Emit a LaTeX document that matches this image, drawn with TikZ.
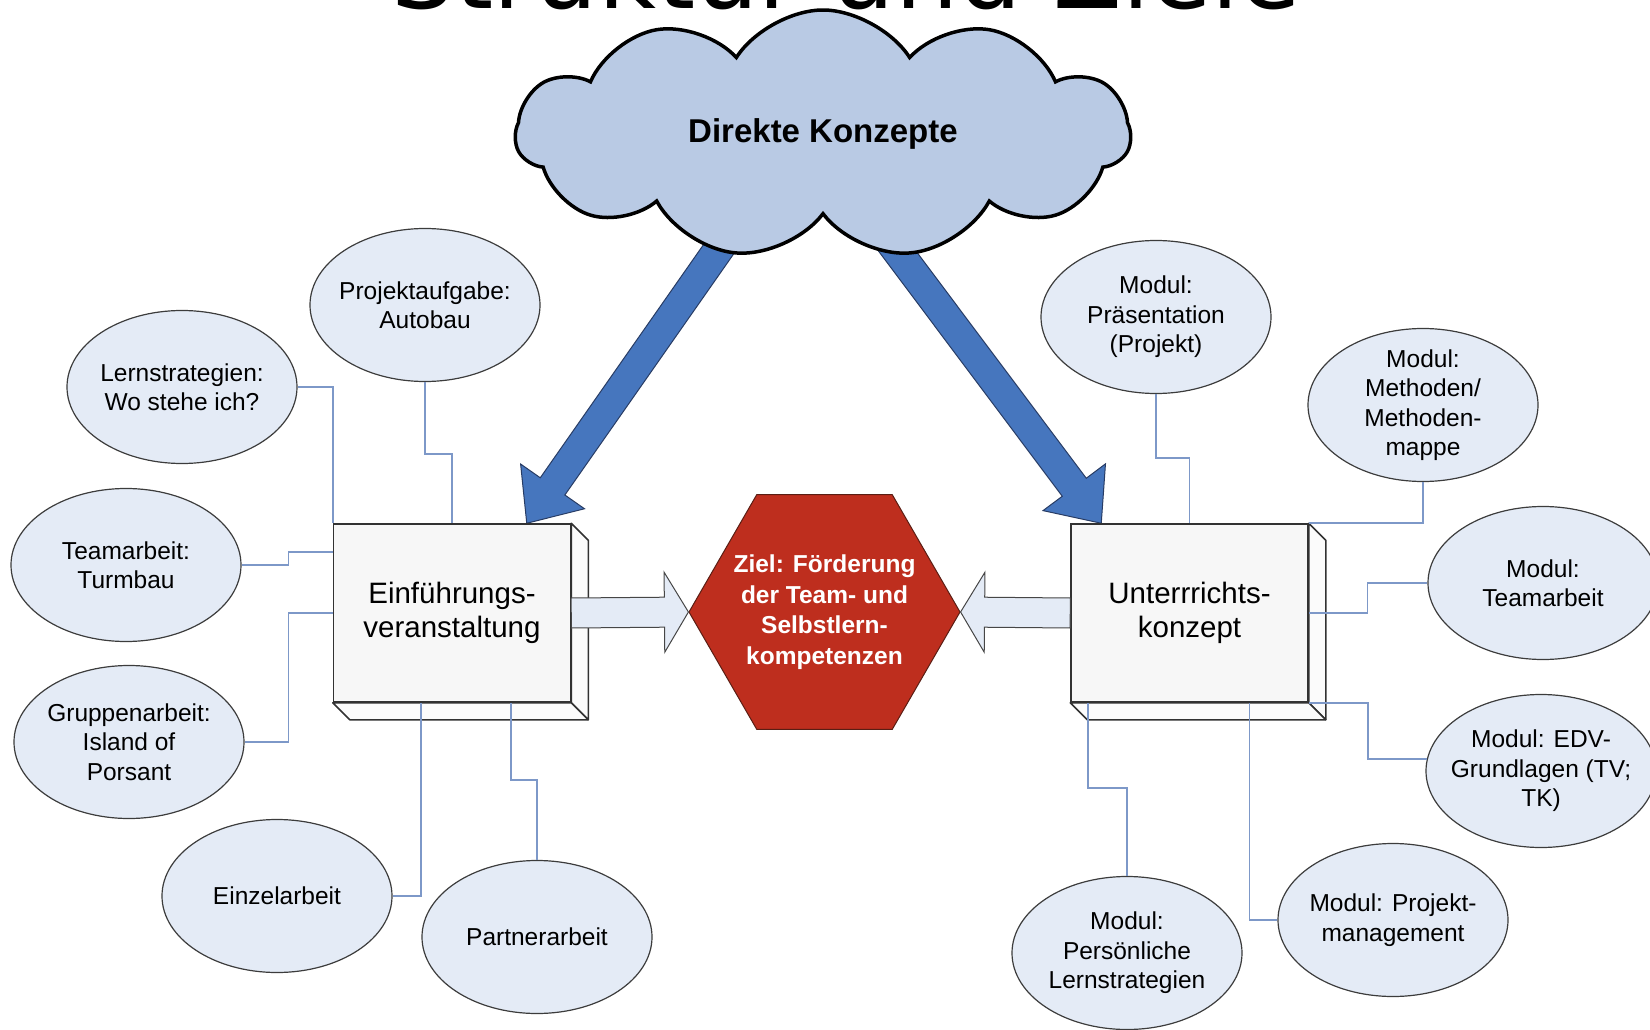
\documentclass[tikz,border=0pt]{standalone}
\usepackage{fontspec}
\setmainfont{Liberation Sans}
\newfontfamily\titlefont{DejaVu Sans}
\usetikzlibrary{shapes.geometric,shapes.symbols,calc,backgrounds}

\definecolor{ellfill}{RGB}{228,235,246}
\definecolor{ellline}{RGB}{60,60,60}
\definecolor{linkcol}{RGB}{125,152,200}
\definecolor{boxfront}{RGB}{247,247,247}
\definecolor{boxside}{RGB}{251,251,251}
\definecolor{boxline}{RGB}{50,50,50}
\definecolor{goalfill}{RGB}{190,46,30}
\definecolor{goalline}{RGB}{90,30,20}
\definecolor{cloudfill}{RGB}{185,202,228}
\definecolor{flatline}{RGB}{70,70,70}
\definecolor{bluefill}{RGB}{70,118,190}
\definecolor{blueline}{RGB}{40,60,100}

% style, from, to, shaft half width, head half width, head length
\newcommand{\blockarrow}[6]{%
  \coordinate (ba-base) at ($(#3)!#6!(#2)$);
  \draw[#1] ($(#2)!#4!90:(#3)$) -- ($(ba-base)!#4!90:(#3)$) -- ($(ba-base)!#5!90:(#3)$)
    -- (#3) -- ($(ba-base)!#5!-90:(#3)$) -- ($(ba-base)!#4!-90:(#3)$) -- ($(#2)!#4!-90:(#3)$) -- cycle;}

\begin{document}
\begin{tikzpicture}[x=1pt,y=-1pt]
        \tikzstyle{topic}=[ellipse,draw=ellline,fill=ellfill,line width=1.2pt,minimum width=230pt,minimum height=153pt,inner xsep=-60pt,inner ysep=-30pt,align=center,font=\fontsize{24.5}{29.5}\selectfont]
        \tikzstyle{block}=[rectangle,draw=boxline,fill=boxfront,line width=1.5pt,minimum width=237pt,minimum height=178pt,align=center,font=\fontsize{29.5}{34}\selectfont]
        \tikzstyle{blockside}=[draw=boxline,fill=boxside,line width=1.5pt,line join=round]
        \tikzstyle{link}=[draw=linkcol,line width=1.6pt]
        \tikzstyle{goal}=[regular polygon,regular polygon sides=6,minimum size=271pt,inner sep=-45pt,draw=goalline,fill=goalfill,line width=1pt,text=white,align=center,font=\bfseries\fontsize{24.5}{30.5}\selectfont]
        \tikzstyle{concept}=[cloud,cloud puffs=11,cloud puff arc=115,cloud ignores aspect,minimum width=615pt,minimum height=248pt,draw=black,line width=3.5pt,fill=cloudfill,font=\bfseries\fontsize{33}{38}\selectfont]
        \tikzstyle{flatarrow}=[draw=flatline,fill=ellfill,line width=1pt]
        \tikzstyle{bluearrow}=[draw=blueline,fill=bluefill,line width=1pt]

        \useasboundingbox (0,0) rectangle (1650,1030);
        \clip (0,0) rectangle (1650,1030);

        \node[font=\titlefont\fontsize{100}{102}\selectfont,anchor=base] (title) at (846,9) {Struktur und Ziele};
        \node[concept] (dk) at (823,134) {Direkte Konzepte};

        \foreach \num/\x/\y/\txt in {1/425/305/{Projektaufgabe:\\Autobau}, 2/182/387/{Lernstrategien:\\Wo stehe ich?},
                3/126/565/{Teamarbeit:\\Turmbau}, 4/129/742/{Gruppenarbeit:\\Island of\\Porsant},
                5/277/896/{Einzelarbeit}, 6/537/937/{Partnerarbeit}}
                \node[topic] (E-\num) at (\x,\y) {\txt};
        \foreach \num/\x/\y/\txt in {1/1156/317/{Modul:\\Präsentation\\(Projekt)}, 2/1423/405/{Modul:\\Methoden/\\Methoden-\\mappe},
                3/1543/583/{Modul:\\Teamarbeit}, 4/1541/771/{Modul: EDV-\\Grundlagen (TV;\\TK)},
                5/1393/920/{Modul: Projekt-\\management}, 6/1127/953/{Modul:\\Persönliche\\Lernstrategien}}
                \node[topic] (M-\num) at (\x,\y) {\txt};

        \node[block] (ein) at (452,613) {Einführungs-\\veranstaltung};
        \node[block] (unt) at (1189.5,613) {Unterrrichts-\\konzept};
        \foreach \b in {ein,unt} {
                \draw[blockside] (\b.north east) -- ++(17,17) -- ($(\b.south east)+(17,17)$) -- (\b.south east) -- cycle;
                \draw[blockside] (\b.south west) -- ++(17,17) -- ($(\b.south east)+(17,17)$) -- (\b.south east) -- cycle;
        }

        \draw[link] (E-1.south) -- ++(0,72) -| (ein.north);
        \draw[link] (E-2.east) -| (ein.north west);
        \draw[link] (E-3.east) -- ++(47,0) |- ($(ein.west)+(0,-61)$);
        \draw[link] (E-4.east) -- ++(44,0) |- (ein.west);
        \draw[link] (E-5.east) -| ($(ein.south west)+(88,0)$);
        \draw[link] (E-6.north) -- ++(0,-80) -| ($(ein.south)+(59,0)$);

        \draw[link] (M-1.south) -- ++(0,64) -| (unt.north);
        \draw[link] (M-2.south) |- (unt.north east);
        \draw[link] (M-3.west) -- ++(-60,0) |- (unt.east);
        \draw[link] (M-4.174) -- ++(-59,0) |- (unt.south east);
        \draw[link] (M-5.west) -| ($(unt.south)+(60,0)$);
        \draw[link] (M-6.north) -- ++(0,-88) -| ($(unt.south west)+(18,0)$);

        \node[goal] (ziel) at (824.5,612) {Ziel: Förderung\\der Team- und\\Selbstlern-\\kompetenzen};
        \blockarrow{flatarrow}{ein.east}{ziel.west}{15pt}{40pt}{24pt}
        \blockarrow{flatarrow}{unt.west}{ziel.east}{15pt}{40pt}{24pt}

        \begin{scope}[on background layer]
                \coordinate (dk-l) at ($(dk.center)+(-58,49)$);
                \coordinate (dk-r) at ($(dk.center)+(27,54)$);
                \coordinate (tip-l) at ($(ein.north west)+(194,0)$);
                \coordinate (tip-r) at ($(unt.north west)+(31,0)$);
                \blockarrow{bluearrow}{dk-l}{tip-l}{15pt}{39pt}{45pt}
                \blockarrow{bluearrow}{dk-r}{tip-r}{15pt}{39pt}{45pt}
        \end{scope}
\end{tikzpicture}
\end{document}
